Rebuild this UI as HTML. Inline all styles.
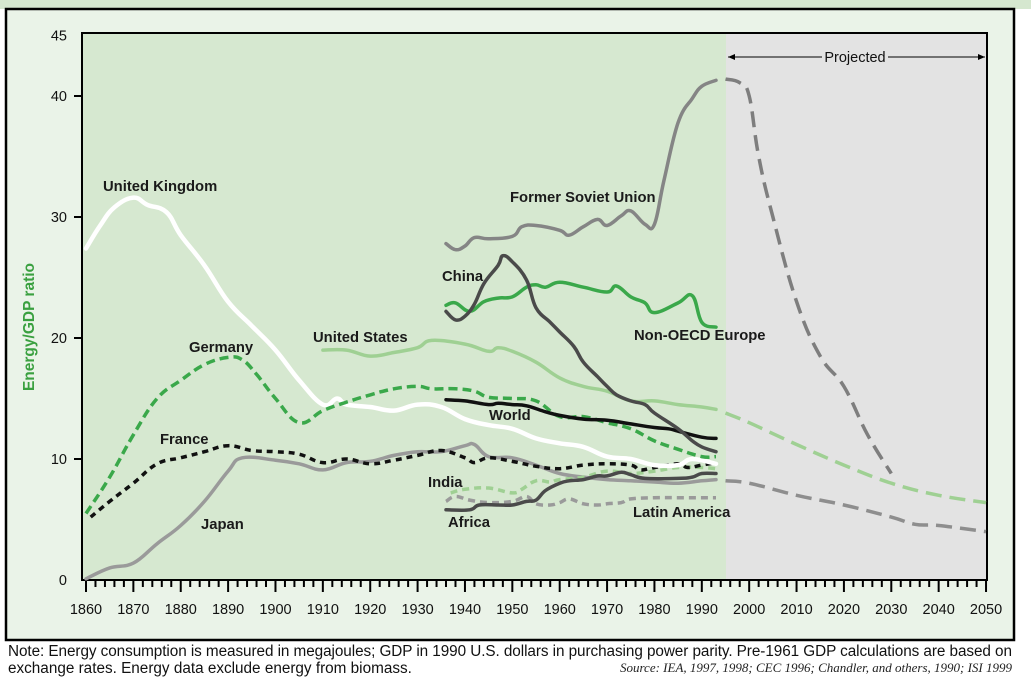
<!DOCTYPE html>
<html><head><meta charset="utf-8"><style>
body{margin:0;background:#fff;width:1031px;height:689px;overflow:hidden;font-family:"Liberation Sans",sans-serif}
</style></head><body>
<svg id="chart" width="1031" height="689" xmlns="http://www.w3.org/2000/svg">
<rect x="0" y="0" width="1031" height="9" fill="#d5e7cf"/>
<rect x="6" y="9" width="1008" height="631" fill="#eaf3e8" stroke="#000" stroke-width="2.5"/>
<rect x="82" y="33" width="644" height="547" fill="#d6e8d0"/>
<rect x="726" y="33" width="261" height="547" fill="#e3e3e3"/>
<rect x="82" y="33" width="905" height="547" fill="none" stroke="#000" stroke-width="2"/>
<g id="axes"></g>
<g id="series"></g>
<g id="labels" font-family="Liberation Sans, sans-serif" font-weight="bold" font-size="14.8" fill="#1a1a1a">
<text x="103" y="191">United Kingdom</text>
<text x="510" y="202">Former Soviet Union</text>
<text x="442" y="281">China</text>
<text x="634" y="340">Non-OECD Europe</text>
<text x="313" y="342">United States</text>
<text x="189" y="352">Germany</text>
<text x="489" y="420">World</text>
<text x="160" y="444">France</text>
<text x="428" y="487">India</text>
<text x="201" y="529">Japan</text>
<text x="448" y="527">Africa</text>
<text x="633" y="517">Latin America</text>
</g>
<text transform="translate(34,327) rotate(-90)" text-anchor="middle" font-weight="bold" font-size="15.5" fill="#3aa040">Energy/GDP ratio</text>
<g>
<line x1="728" y1="57" x2="985" y2="57" stroke="#000" stroke-width="1"/>
<path d="M728 57 l7 -3 v6 z M985 57 l-7 -3 v6 z" fill="#000"/>
<rect x="822" y="48" width="66" height="16" fill="#e3e3e3"/>
<text x="855" y="62" text-anchor="middle" font-size="14.5" fill="#111">Projected</text>
</g>
<text x="8" y="656" font-size="15.3" fill="#111" textLength="1004">Note: Energy consumption is measured in megajoules; GDP in 1990 U.S. dollars in purchasing power parity. Pre-1961 GDP calculations are based on</text>
<text x="8" y="673" font-size="15.3" fill="#111">exchange rates. Energy data exclude energy from biomass.</text>
<text x="1012" y="672" text-anchor="end" font-family="Liberation Serif, serif" font-style="italic" font-size="13" fill="#222">Source: IEA, 1997, 1998; CEC 1996; Chandler, and others, 1990;  ISI 1999</text>
</svg>
<script>
const xTicks=[1860,1870,1880,1890,1900,1910,1920,1930,1940,1950,1960,1970,1980,1990,2000,2010,2020,2030,2040,2050];
const yTicks=[0,10,20,30,40,45];
const ukYears=[1860,1863,1866,1870,1873,1877,1880,1885,1890,1895,1900,1905,1910,1913,1915,1920,1925,1930,1935,1940,1945,1950,1955,1960,1965,1970,1975,1980,1985,1988,1993];
const ukVals=[27.4,29.3,30.8,31.6,31.0,30.4,28.5,26,23,21,19,16.5,14.5,15,14.5,14.3,14,14.5,14.3,13.3,12.8,12.5,11.7,11.3,11,10.2,10,9.5,9.5,10,9.6];
const deYears=[1860,1865,1870,1875,1880,1885,1890,1893,1896,1900,1905,1910,1915,1920,1925,1930,1933,1938,1942,1945,1950,1955,1960,1965,1970,1975,1980,1985,1990,1993];
const deVals=[5.5,8.5,12,15,16.5,17.8,18.4,18.2,17,15,13,14,14.7,15.3,15.8,16,15.8,15.8,15.6,15.1,15,14.8,13.5,13.5,13,12.5,11.5,10.8,10.2,10.2];
const frYears=[1861,1865,1870,1875,1880,1885,1890,1895,1900,1905,1910,1915,1920,1925,1930,1935,1940,1942,1945,1950,1955,1960,1965,1970,1975,1977,1980,1985,1987,1990,1993];
const frVals=[5.2,6.5,8,9.6,10.1,10.6,11.1,10.7,10.6,10.4,9.7,10,9.6,9.9,10.3,10.7,10.1,9.7,10.1,9.8,9.4,9.2,9.5,9.6,9.5,9.1,9.3,9.6,9.3,9.5,9.7];
const jpYears=[1860,1865,1870,1875,1880,1885,1890,1893,1900,1905,1910,1915,1920,1925,1930,1935,1940,1942,1945,1950,1955,1960,1965,1970,1975,1980,1985,1990,1993];
const jpVals=[0.1,1,1.4,3,4.5,6.5,9,10.1,9.9,9.6,9.1,9.7,9.8,10.3,10.6,10.6,11.1,11.2,10.2,10.1,9.5,8.8,8.5,8.3,8.2,8.1,8,8.2,8.3];
const jpProjYears=[1995,2000,2010,2020,2030,2035,2040,2050];
const jpProjVals=[8.2,8,7,6.2,5.2,4.6,4.5,4.0];
const usYears=[1910,1915,1920,1925,1930,1933,1940,1945,1947,1950,1955,1960,1965,1970,1975,1980,1985,1990,1993];
const usVals=[19,19,18.5,18.8,19.2,19.8,19.5,18.9,19.2,18.9,18,16.7,16,15.6,14.8,14.8,14.5,14.3,14.1];
const usProjYears=[1995,2000,2010,2020,2030,2040,2050];
const usProjVals=[13.8,13,11.2,9.5,8,7,6.4];
const fsuYears=[1936,1938,1940,1942,1945,1950,1952,1955,1960,1962,1965,1968,1970,1973,1975,1978,1980,1982,1985,1988,1990,1993];
const fsuVals=[27.8,27.3,27.6,28.3,28.2,28.4,29.2,29.3,28.9,28.5,29.2,29.8,29.3,30.1,30.5,29.4,29.4,33,37.8,39.8,40.8,41.3];
const fsuProjYears=[1995,1998,2000,2002,2005,2010,2015,2020,2025,2030];
const fsuProjVals=[41.4,41.1,40,35,30,23,18.5,16,12,8.8];
const cnYears=[1936,1938,1940,1942,1944,1947,1948,1950,1953,1955,1958,1960,1963,1965,1968,1970,1972,1975,1978,1980,1985,1988,1990,1993];
const cnVals=[22.2,21.5,21.8,22.8,24.5,26,26.8,26.3,24.8,22.5,21.3,20.5,19.3,18,16.8,16,15.3,14.8,14.5,13.8,12.5,11.5,11,10.6];
const neYears=[1936,1938,1941,1944,1947,1950,1953,1955,1957,1960,1965,1970,1972,1975,1978,1980,1985,1988,1990,1993];
const neVals=[22.7,22.9,22.2,23,23.3,23.4,24.2,24.4,24.2,24.6,24.2,23.8,24.3,23.4,22.9,22.1,22.9,23.5,21.3,20.9];
const wdYears=[1936,1940,1945,1947,1950,1953,1957,1960,1965,1970,1975,1980,1983,1985,1990,1993];
const wdVals=[14.9,14.8,14.5,14.6,14.5,14.4,13.9,13.6,13.3,13.2,12.9,12.6,12.5,12.3,11.8,11.7];
const inYears=[1937,1940,1945,1950,1952,1955,1958,1960,1965,1970,1975,1980,1985,1990,1993];
const inVals=[7.2,7.5,7.6,7.2,7.5,8.2,8.1,8.3,8.5,9.0,8.8,9.0,9.3,9.3,9.2];
const afYears=[1936,1941,1943,1947,1950,1953,1955,1957,1960,1962,1965,1968,1970,1973,1975,1978,1985,1988,1990,1993];
const afVals=[5.8,5.8,6.2,6.2,6.2,6.5,6.6,7.4,8.0,8.2,8.3,8.6,8.6,8.9,8.7,8.4,8.4,8.5,8.8,8.8];
const laYears=[1936,1938,1941,1945,1950,1953,1955,1958,1960,1962,1965,1968,1970,1973,1975,1980,1985,1993];
const laVals=[6.5,6.9,6.6,6.4,6.5,6.9,6.3,6.2,6.4,6.7,6.3,6.2,6.3,6.4,6.7,6.8,6.8,6.8];

const NS='http://www.w3.org/2000/svg';
function xs(yr){return 86+(yr-1860)*4.737;}
function ys(v){return 580-v*12.1;}
const axes=document.getElementById('axes');
const ser=document.getElementById('series');
function mk(tag,attrs,parent){const e=document.createElementNS(NS,tag);for(const k in attrs)e.setAttribute(k,attrs[k]);parent.appendChild(e);return e;}
for(let yr=1860;yr<=2050;yr+=2){
  const major=(yr%10===0);
  const t=mk('line',{x1:xs(yr),x2:xs(yr),y1:580,y2:major?592:587,stroke:'#000','stroke-width':2},axes);
  
  
}
xTicks.forEach(yr=>{
  const t=mk('text',{x:xs(yr),y:614,'text-anchor':'middle','font-size':14.5,fill:'#111'},axes);
  t.textContent=yr;
  
  
});
yTicks.forEach(v=>{
  if(v>0&&v<45){const l=mk('line',{x1:74,x2:82,y1:ys(v),y2:ys(v),stroke:'#000','stroke-width':2},axes);
  
  }
  const t=mk('text',{x:67,y:ys(v)+5,'text-anchor':'end','font-size':14.5,fill:'#111'},axes);
  t.textContent=v;
  
  
});
function line(yrs,vals,color,w,dash,name){
  const P=yrs.map((y,i)=>[xs(y),ys(vals[i])]);
  let d='M'+P[0][0].toFixed(1)+' '+P[0][1].toFixed(1);
  for(let i=0;i<P.length-1;i++){
    const p0=P[Math.max(i-1,0)],p1=P[i],p2=P[i+1],p3=P[Math.min(i+2,P.length-1)];
    const t=0.2;
    const c1=[p1[0]+(p2[0]-p0[0])*t,p1[1]+(p2[1]-p0[1])*t];
    const c2=[p2[0]-(p3[0]-p1[0])*t,p2[1]-(p3[1]-p1[1])*t];
    d+=' C'+c1[0].toFixed(1)+' '+c1[1].toFixed(1)+' '+c2[0].toFixed(1)+' '+c2[1].toFixed(1)+' '+p2[0].toFixed(1)+' '+p2[1].toFixed(1);
  }
  const p=mk('path',{d:d,fill:'none',stroke:color,'stroke-width':w,'stroke-linejoin':'round','stroke-linecap':dash?'butt':'round'},ser);
  if(dash)p.setAttribute('stroke-dasharray',dash);
  
  
}
line(jpProjYears,jpProjVals,'#8e8e8e',3.5,'16 8','series-japan-projected');
line(usProjYears,usProjVals,'#9fd093',3.5,'16 8','series-us-projected');
line(fsuProjYears,fsuProjVals,'#7e7e7e',3.5,'16 8','series-fsu-projected');
line(laYears,laVals,'#9a9a9a',3.5,'7 5','series-latin-america');
line(jpYears,jpVals,'#9a9a9a',3.5,null,'series-japan');
line(usYears,usVals,'#9fd093',3.5,null,'series-united-states');
line(inYears,inVals,'#9fd093',3.5,'7 5','series-india');
line(afYears,afVals,'#4a4a4a',3.5,null,'series-africa');
line(frYears,frVals,'#111',3.5,'6 5','series-france');
line(ukYears,ukVals,'#ffffff',4.5,null,'series-united-kingdom');
line(deYears,deVals,'#3aa84a',3.5,'9 5','series-germany');
line(wdYears,wdVals,'#111',3.5,null,'series-world');
line(fsuYears,fsuVals,'#858585',3.5,null,'series-former-soviet-union');
line(neYears,neVals,'#3aa84a',3.5,null,'series-non-oecd-europe');
line(cnYears,cnVals,'#4a4a4a',3.5,null,'series-china');
</script>
</body></html>
